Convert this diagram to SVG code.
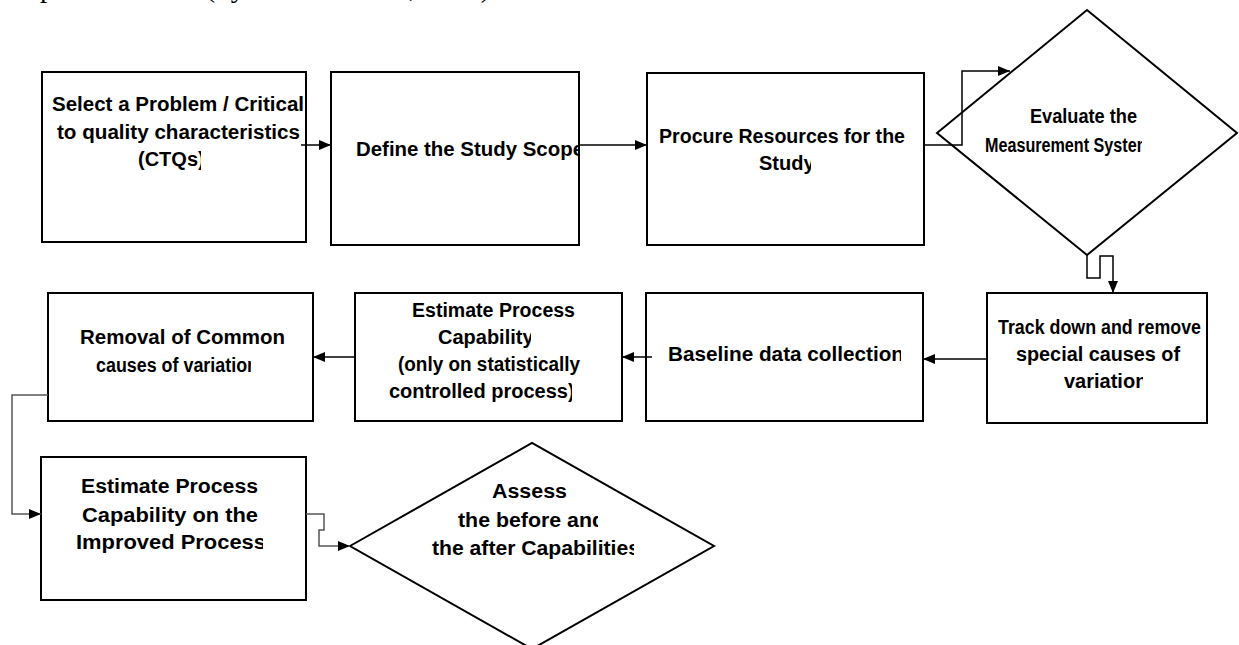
<svg xmlns="http://www.w3.org/2000/svg" width="1239" height="645" viewBox="0 0 1239 645">
<style>
.box{fill:#fff;stroke:#000;stroke-width:2}
.t{font-family:"Liberation Sans",Arial,sans-serif;font-weight:bold;font-size:20px;fill:#000}
.c{fill:none;stroke:#000;stroke-width:1.5}
.g{fill:none;stroke:#555;stroke-width:1.5}
.cap{font-family:"Liberation Serif","Times New Roman",serif;font-size:27px;fill:#000}
</style>
<defs>
<marker id="ah" markerWidth="12" markerHeight="10" refX="12" refY="5" orient="auto" markerUnits="userSpaceOnUse">
<path d="M0,0 L12,5 L0,10 Z" fill="#000"/>
</marker>
<clipPath id="k1"><rect x="0" y="140" width="201" height="40"/></clipPath>
<clipPath id="k2"><rect x="0" y="130" width="579" height="40"/></clipPath>
<clipPath id="k3"><rect x="0" y="150" width="811" height="30"/></clipPath>
<clipPath id="k4"><rect x="0" y="130" width="1142" height="30"/></clipPath>
<clipPath id="k5"><rect x="0" y="365" width="1143" height="30"/></clipPath>
<clipPath id="k6"><rect x="0" y="340" width="901" height="30"/></clipPath>
<clipPath id="k7"><rect x="0" y="322" width="531" height="30"/></clipPath>
<clipPath id="k8"><rect x="0" y="378" width="572" height="30"/></clipPath>
<clipPath id="k9"><rect x="0" y="352" width="251" height="30"/></clipPath>
<clipPath id="k10"><rect x="0" y="528" width="263" height="30"/></clipPath>
<clipPath id="k11"><rect x="0" y="505" width="598" height="30"/></clipPath>
<clipPath id="k12"><rect x="0" y="533" width="634" height="30"/></clipPath>
</defs>
<text class="cap" x="0" y="-3" textLength="720" lengthAdjust="spacingAndGlyphs">adapted based on (Tyler &amp; Sommer, 2013) model formulation.</text>

<g id="n1"><rect class="box" x="42" y="72" width="264" height="170"/>
<text class="t" x="52" y="111" textLength="252" lengthAdjust="spacingAndGlyphs">Select a Problem / Critical</text>
<text class="t" x="57" y="139" textLength="243" lengthAdjust="spacingAndGlyphs">to quality characteristics</text>
<text class="t" x="138" y="166" clip-path="url(#k1)">(CTQs)</text></g>

<g id="n2"><rect class="box" x="331" y="72" width="248" height="173"/>
<text class="t" x="356" y="156" textLength="228" lengthAdjust="spacingAndGlyphs" clip-path="url(#k2)">Define the Study Scope</text></g>

<g id="n3"><rect class="box" x="647" y="73" width="277" height="172"/>
<text class="t" x="659" y="143" textLength="246" lengthAdjust="spacingAndGlyphs">Procure Resources for the</text>
<text class="t" x="759" y="170" clip-path="url(#k3)">Study</text></g>

<g id="n4"><polygon class="box" points="937,133 1087,10 1237,133 1087,255"/>
<text class="t" x="1030" y="123" textLength="107" lengthAdjust="spacingAndGlyphs">Evaluate the</text>
<text class="t" x="985" y="152" textLength="166" lengthAdjust="spacingAndGlyphs" clip-path="url(#k4)">Measurement System</text></g>

<g id="n5"><rect class="box" x="987" y="293" width="220" height="130"/>
<text class="t" x="998" y="334" textLength="203" lengthAdjust="spacingAndGlyphs">Track down and remove</text>
<text class="t" x="1016" y="361" textLength="164" lengthAdjust="spacingAndGlyphs">special causes of</text>
<text class="t" x="1064" y="388" clip-path="url(#k5)">variation</text></g>

<g id="n6"><rect class="box" x="646" y="293" width="277" height="128"/>
<text class="t" x="668" y="361" textLength="236" lengthAdjust="spacingAndGlyphs" clip-path="url(#k6)">Baseline data collection</text></g>

<g id="n7"><rect class="box" x="355" y="293" width="267" height="128"/>
<text class="t" x="412" y="317" textLength="163" lengthAdjust="spacingAndGlyphs">Estimate Process</text>
<text class="t" x="438" y="344" clip-path="url(#k7)">Capability</text>
<text class="t" x="398" y="371" textLength="182" lengthAdjust="spacingAndGlyphs">(only on statistically</text>
<text class="t" x="389" y="398" clip-path="url(#k8)">controlled process)</text></g>

<g id="n8"><rect class="box" x="48" y="293" width="265" height="128"/>
<text class="t" x="80" y="344" textLength="205" lengthAdjust="spacingAndGlyphs">Removal of Common</text>
<text class="t" x="96" y="372" textLength="162" lengthAdjust="spacingAndGlyphs" clip-path="url(#k9)">causes of variation</text></g>

<g id="n9"><rect class="box" x="41" y="457" width="265" height="143"/>
<text class="t" x="81" y="493" textLength="177" lengthAdjust="spacingAndGlyphs">Estimate Process</text>
<text class="t" x="82" y="522" textLength="176" lengthAdjust="spacingAndGlyphs">Capability on the</text>
<text class="t" x="76" y="549" textLength="190" lengthAdjust="spacingAndGlyphs" clip-path="url(#k10)">Improved Process</text></g>

<g id="n10"><polygon class="box" points="350,546 532,443 714,546 532,649"/>
<text class="t" x="492" y="498" textLength="75" lengthAdjust="spacingAndGlyphs">Assess</text>
<text class="t" x="458" y="527" textLength="147" lengthAdjust="spacingAndGlyphs" clip-path="url(#k11)">the before and</text>
<text class="t" x="432" y="555" textLength="208" lengthAdjust="spacingAndGlyphs" clip-path="url(#k12)">the after Capabilities</text></g>

<g id="connectors">
<path class="c" d="M301,145 H331" marker-end="url(#ah)"/>
<path class="c" d="M579,145 H647" marker-end="url(#ah)"/>
<path class="c" d="M924,145 H962 V71 H1010" marker-end="url(#ah)"/>
<path class="c" d="M1087,255 V278 H1100 V256 H1113 V293" marker-end="url(#ah)"/>
<path class="c" d="M987,359 H923" marker-end="url(#ah)"/>
<path class="c" d="M652,357 H622" marker-end="url(#ah)"/>
<path class="c" d="M355,357 H313" marker-end="url(#ah)"/>
<path class="g" d="M48,395 H12 V514 H41" marker-end="url(#ah)"/>
<path class="g" d="M306,514 H324 V530 H319 V546 H350" marker-end="url(#ah)"/>
</g>
</svg>
